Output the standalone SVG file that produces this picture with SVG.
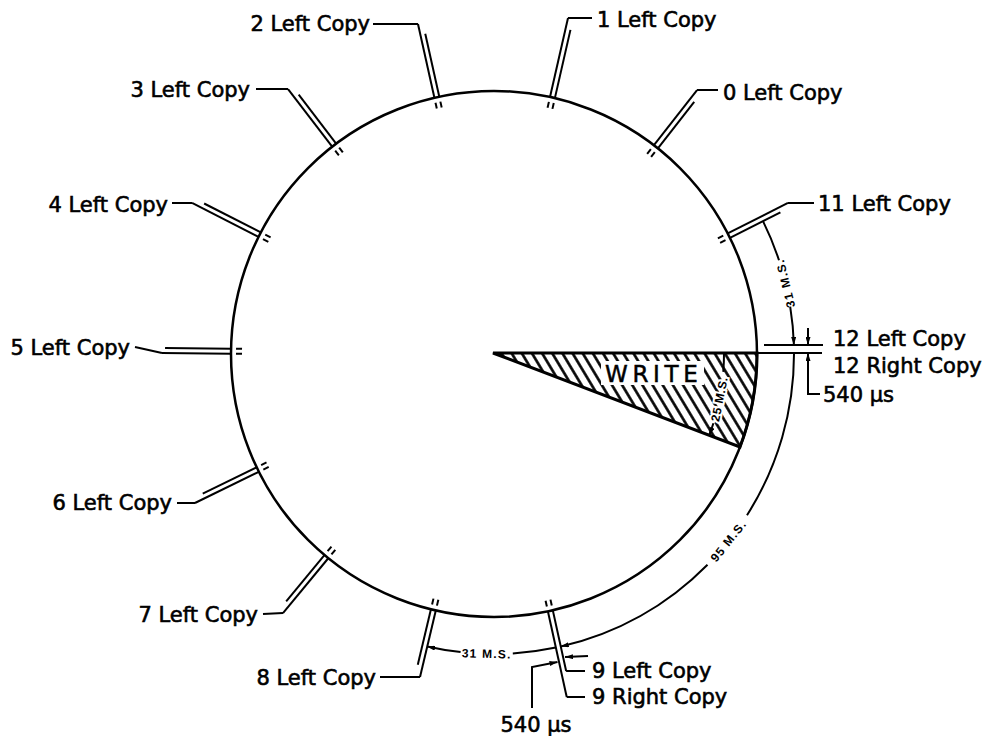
<svg xmlns="http://www.w3.org/2000/svg" width="984" height="736" viewBox="0 0 984 736">
<defs>
<style>
.ln{stroke:#000;stroke-width:2;fill:none}
.lbl{font-family:"DejaVu Sans",sans-serif;font-size:21px;fill:#000;stroke:#000;stroke-width:0.6px}
.end{text-anchor:end}
.dim{font-family:"Liberation Sans",Arial,sans-serif;font-weight:bold;font-size:12px;letter-spacing:1.2px;text-anchor:middle;fill:#000}
</style>
<pattern id="hatch" patternUnits="userSpaceOnUse" width="8.7" height="8.7" patternTransform="rotate(-31)">
<line x1="4.35" y1="-1" x2="4.35" y2="9.7" stroke="#000" stroke-width="2.6"/>
</pattern>
<marker id="ah" viewBox="0 0 8 5" refX="8" refY="2.5" markerWidth="8" markerHeight="5" markerUnits="userSpaceOnUse" orient="auto" preserveAspectRatio="none">
<path d="M0,0 L8,2.5 L0,5 z" fill="#000" stroke="none"/>
</marker>
</defs>
<rect width="984" height="736" fill="#fff"/>

<g id="drum">
<circle cx="494" cy="354" r="263" fill="none" stroke="#000" stroke-width="2.5"/>
</g>

<g id="write-sector">
<path d="M493 353 L757 353 A263 263 0 0 1 740 447 Z" fill="url(#hatch)" stroke="#000" stroke-width="3" stroke-linejoin="miter"/>
<rect x="601" y="361" width="103" height="24" fill="#fff"/>
<text x="605" y="382" style="font-family:'DejaVu Sans',sans-serif;font-size:23px;letter-spacing:4.7px;stroke:#000;stroke-width:0.5px">WRITE</text>
<text class="dim" transform="translate(719.5 399.1) rotate(-78.7)" dy="4" style="letter-spacing:0.6px;stroke:#fff;stroke-width:4;paint-order:stroke">25 M.S.</text>
</g>

<g id="copy-11">
<g class="ln" transform="rotate(-26.76 494 354)">
<line x1="757" y1="351.5" x2="824.5" y2="351.5"/><line x1="757" y1="356.5" x2="813.5" y2="356.5"/>
<line x1="746" y1="351.5" x2="752" y2="351.5"/><line x1="746" y1="356.5" x2="752" y2="356.5"/>
</g>
<text class="lbl" x="818" y="211">11 Left Copy</text>
</g>

<g id="copy-0">
<g class="ln" transform="rotate(-52 494 354)">
<line x1="757" y1="351.5" x2="827" y2="351.5"/><line x1="757" y1="356.5" x2="816" y2="356.5"/>
<line x1="746" y1="351.5" x2="752" y2="351.5"/><line x1="746" y1="356.5" x2="752" y2="356.5"/>
</g>
<text class="lbl" x="723" y="100">0 Left Copy</text>
</g>

<g id="copy-1">
<g class="ln" transform="rotate(-77.16 494 354)">
<line x1="757" y1="351.5" x2="838" y2="351.5"/><line x1="757" y1="356.5" x2="827" y2="356.5"/>
<line x1="746" y1="351.5" x2="752" y2="351.5"/><line x1="746" y1="356.5" x2="752" y2="356.5"/>
</g>
<text class="lbl" x="597" y="26.5">1 Left Copy</text>
</g>

<g id="copy-2">
<g class="ln" transform="rotate(-102.55 494 354)">
<line x1="757" y1="351.5" x2="832.6" y2="351.5"/><line x1="757" y1="356.5" x2="821.6" y2="356.5"/>
<line x1="746" y1="351.5" x2="752" y2="351.5"/><line x1="746" y1="356.5" x2="752" y2="356.5"/>
</g>
<text class="lbl end" x="370" y="31">2 Left Copy</text>
</g>

<g id="copy-3">
<g class="ln" transform="rotate(-127.43 494 354)">
<line x1="757" y1="351.5" x2="829.6" y2="351.5"/><line x1="757" y1="356.5" x2="818.6" y2="356.5"/>
<line x1="746" y1="351.5" x2="752" y2="351.5"/><line x1="746" y1="356.5" x2="752" y2="356.5"/>
</g>
<text class="lbl end" x="250" y="97">3 Left Copy</text>
</g>

<g id="copy-4">
<g class="ln" transform="rotate(-153 494 354)">
<line x1="757" y1="351.5" x2="831.6" y2="351.5"/><line x1="757" y1="356.5" x2="820.6" y2="356.5"/>
<line x1="746" y1="351.5" x2="752" y2="351.5"/><line x1="746" y1="356.5" x2="752" y2="356.5"/>
</g>
<text class="lbl end" x="168" y="212">4 Left Copy</text>
</g>

<g id="copy-5">
<g class="ln" transform="rotate(-179.4 494 354)">
<line x1="757" y1="351.5" x2="826" y2="351.5"/><line x1="757" y1="356.5" x2="823" y2="356.5"/>
<line x1="746" y1="351.5" x2="752" y2="351.5"/><line x1="746" y1="356.5" x2="752" y2="356.5"/>
</g>
<text class="lbl end" x="130" y="355">5 Left Copy</text>
</g>

<g id="copy-6">
<g class="ln" transform="rotate(-206.06 494 354)">
<line x1="757" y1="351.5" x2="828.1" y2="351.5"/><line x1="757" y1="356.5" x2="817" y2="356.5"/>
<line x1="746" y1="351.5" x2="752" y2="351.5"/><line x1="746" y1="356.5" x2="752" y2="356.5"/>
</g>
<text class="lbl end" x="172" y="510">6 Left Copy</text>
</g>

<g id="copy-7">
<g class="ln" transform="rotate(-230.4 494 354)">
<line x1="757" y1="351.5" x2="828.1" y2="351.5"/><line x1="757" y1="356.5" x2="817" y2="356.5"/>
<line x1="746" y1="351.5" x2="752" y2="351.5"/><line x1="746" y1="356.5" x2="752" y2="356.5"/>
</g>
<text class="lbl end" x="258" y="622">7 Left Copy</text>
</g>

<g id="copy-8">
<g class="ln" transform="rotate(-256.67 494 354)">
<line x1="757" y1="351.5" x2="825.4" y2="351.5"/><line x1="757" y1="356.5" x2="814" y2="356.5"/>
<line x1="746" y1="351.5" x2="752" y2="351.5"/><line x1="746" y1="356.5" x2="752" y2="356.5"/>
</g>
<text class="lbl end" x="376" y="685">8 Left Copy</text>
</g>

<g id="copy-9">
<g class="ln" transform="rotate(-282.38 494 354)">
<line x1="757" y1="351.5" x2="819.1" y2="351.5"/><line x1="757" y1="356.5" x2="844.6" y2="356.5"/>
<line x1="746" y1="351.5" x2="752" y2="351.5"/><line x1="746" y1="356.5" x2="752" y2="356.5"/>
</g>
<text class="lbl" x="592" y="678">9 Left Copy</text>
<text class="lbl" x="592" y="704">9 Right Copy</text>
</g>

<g id="copy-12">
<g class="ln">
<line x1="764" y1="345" x2="823" y2="345"/>
<line x1="757" y1="353" x2="822" y2="353"/>
</g>
<text class="lbl" x="833" y="346">12 Left Copy</text>
<text class="lbl" x="833" y="373">12 Right Copy</text>
</g>

<g id="label-540-right">
<text class="lbl" x="823" y="402">540 µs</text>
</g>
<g id="label-540-bottom">
<text class="lbl" x="536" y="732" text-anchor="middle">540 µs</text>
</g>

<g id="connectors" class="ln">
<path d="M697 90 H718"/>
<path d="M568 18 H592"/>
<path d="M788 203 H814"/>
<path d="M418 24 H373"/>
<path d="M288 89 H256"/>
<path d="M192 203 H172"/>
<path d="M162 353 L135 347"/>
<path d="M195 503 H177"/>
<path d="M283 613 L263 614"/>
<path d="M420 677 H380"/>
<path d="M566.1 671 H585"/>
<path d="M566.7 697 H585"/>
<path d="M763 221.1 A300 300 0 0 1 779 260.3"/>
<path d="M790.2 306.6 A300 300 0 0 1 793.9 345" marker-end="url(#ah)"/>
<path d="M794 353 A300 300 0 0 1 747 515.2"/>
<path d="M707.5 564.7 A300 300 0 0 1 560.8 646.5" marker-end="url(#ah)"/>
<path d="M555.9 647.5 A300 300 0 0 1 512.8 653.4"/>
<path d="M460.6 652.1 A300 300 0 0 1 427.2 646.5" marker-end="url(#ah)"/>
<path d="M724 353 A230 230 0 0 1 723.3 371.8"/>
<path d="M713.4 423.2 A230 230 0 0 1 709.2 435.3" marker-end="url(#ah)"/>
<path d="M808 328 V345" marker-end="url(#ah)"/>
<path d="M820 394 H808 V353" marker-end="url(#ah)"/>
<path d="M532 708 V667 L557.5 662" marker-end="url(#ah)"/>
<path d="M588 656 L565 657" marker-end="url(#ah)"/>
<text class="dim" transform="translate(785.5 283.2) rotate(-103.65)" dy="4" style="stroke:none">31 M.S.</text>
<text class="dim" transform="translate(728.6 540.9) rotate(-51.45)" dy="4" style="stroke:none">95 M.S.</text>
<text class="dim" transform="translate(486.7 653.9) rotate(1.4)" dy="4" style="stroke:none">31 M.S.</text>
</g>
</svg>
